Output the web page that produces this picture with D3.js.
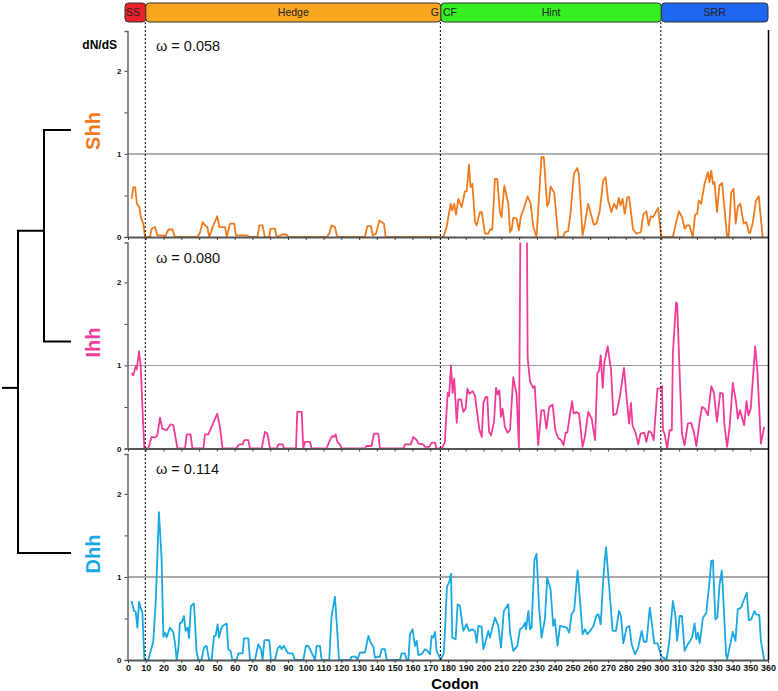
<!DOCTYPE html>
<html lang="en">
<head>
    <meta charset="UTF-8" />
    <title>dN/dS along hedgehog codons</title>
    <script src="https://d3js.org/d3.v7.min.js"></script>
    <style>
        body { margin: 0; background: #fff; }
        text { font-family: "Liberation Sans", Arial, sans-serif; }
    </style>
</head>
<body>
    <script>
        var w = 778;
        var h = 691;

        // data: [codon, dN/dS]
        var genes = ["Shh", "Ihh", "Dhh"];
        var omegas = ["0.058", "0.080", "0.114"];
        var geneColors = ["#f07a1e", "#f03c98", "#1aa8e2"];

        var shh = [[2,0.46],[3,0.6],[4,0.6],[5,0.4],[6.4,0.36],[7.3,0.23],[8.6,0.16],[9.6,0],[12.4,0],[13.3,0.1],[15.2,0.12],[16.5,0.02],[19.9,0.02],[20.8,0],[22.7,0.09],[25.1,0.09],[26.4,0],[39,0],[40.5,0.05],[42,0.18],[43.3,0.14],[44.6,0.12],[45.7,0],[48,0.14],[50.2,0.25],[51.4,0.12],[54.6,0.12],[55.5,0],[57.4,0.16],[59.8,0.16],[60.7,0.02],[66.7,0.02],[68.6,0],[72.8,0],[73.9,0.14],[75.7,0.14],[77,0],[79.5,0],[80.2,0.1],[82.7,0.1],[83.6,0],[86.8,0.03],[89.2,0.03],[90.2,0],[111.7,0],[113.2,0.04],[114.5,0.14],[116.4,0.12],[117.7,0],[133.3,0],[134.6,0.13],[136.7,0.13],[137.6,0.02],[139.5,0.04],[141.4,0.2],[144,0.16],[144.9,0],[177.4,0],[179.2,0.12],[181.5,0.4],[182.4,0.32],[183.5,0.4],[184.5,0.27],[185.8,0.46],[187.7,0.36],[189.5,0.55],[190.5,0.55],[191.8,0.87],[192.7,0.6],[193.7,0.64],[195.2,0.18],[196.1,0.14],[198,0.3],[199,0.3],[200.8,0.04],[202.7,0.04],[203.6,0.09],[204.9,0.09],[206.4,0.7],[207.7,0.7],[209.2,0.3],[210.1,0.24],[211.7,0.62],[213.9,0.4],[214.9,0.06],[215.8,0.09],[216.7,0.23],[218.6,0.22],[219.9,0.08],[220.9,0.24],[222.9,0.36],[224.8,0.49],[226.5,0.4],[228,0.12],[229.8,0],[232.6,0.96],[233.9,0.96],[235.8,0.37],[236.8,0.42],[237.7,0.61],[239.8,0.53],[242,0],[244.8,0],[245.8,0.06],[247.6,0.07],[248.9,0.28],[250.8,0.76],[252.7,0.83],[253.6,0.76],[255.7,0.02],[257,0.16],[258.8,0.4],[262,0.15],[263.5,0.16],[265.4,0.32],[267.3,0.68],[268.6,0.72],[270.1,0.44],[271.9,0.3],[273.4,0.4],[274.8,0.34],[276.1,0.47],[277,0.38],[278.2,0.46],[279.4,0.28],[280.9,0.48],[281.9,0.48],[284.1,0.09],[286,0.04],[288.5,0.06],[289.8,0.27],[291.6,0.31],[292.9,0.14],[294.1,0.25],[295.4,0.24],[296.9,0.3],[298.2,0.35],[300,0],[306.5,0],[307.9,0.14],[309.9,0.31],[311.6,0.24],[313.1,0.1],[314.4,0.14],[315.8,0.14],[317.7,0],[319,0.27],[320.2,0.28],[321.1,0.44],[322.4,0.4],[324.3,0.64],[326.2,0.78],[327.1,0.66],[328.1,0.8],[329,0.64],[329.9,0.66],[331.3,0.3],[332.7,0.62],[334.2,0.65],[337,0],[337.8,0],[339.3,0.54],[340.6,0.58],[341.8,0.16],[343.1,0.37],[344.4,0.4],[346.3,0.16],[347.8,0.18],[349.3,0.05],[350,0.05],[351.4,0.17],[353.3,0.44],[354.8,0.49],[357,0]];

        var ihh = [[2,0.91],[3,0.88],[4.3,0.99],[4.9,0.95],[6.2,1.17],[7.1,1.01],[8.6,0.26],[9.2,0],[11.4,0],[13.3,0.14],[15.2,0.13],[16.5,0.16],[18,0.37],[19.3,0.24],[21.7,0.22],[24,0.29],[25.5,0.28],[27,0.1],[27.8,0],[32.1,0],[33,0.17],[35.2,0.17],[36.2,0],[42.4,0],[43.3,0.17],[45.2,0.17],[47,0.26],[50.2,0.42],[51.7,0.26],[53.2,0],[61.1,0],[62.4,0.05],[64.5,0.05],[65.4,0.1],[67.7,0.1],[68.6,0],[75.2,0],[77,0.2],[78.4,0.18],[79.9,0],[83.6,0],[84.6,0.05],[87,0.05],[87.9,0],[94.5,0],[95.2,0.44],[97.7,0.44],[98.6,0],[99.6,0.08],[102.4,0.08],[103.3,0],[111.7,0],[113.6,0.1],[114.9,0.15],[116,0.14],[116.8,0.17],[117.7,0.08],[119.2,0.05],[120.2,0],[133.3,0],[134.2,0.03],[137,0.03],[138.4,0.18],[140.8,0.18],[141.7,0],[154.9,0],[155.8,0.05],[159,0.05],[160.5,0.14],[162.4,0.1],[163.3,0.06],[166.1,0.05],[167,0.02],[169.5,0.02],[170.8,0.07],[172.7,0.07],[173.6,0],[176.4,0],[178.2,0.07],[179.8,0.67],[180.6,0.63],[181.7,1.0],[182.6,0.67],[183.5,0.84],[184.9,0.31],[185.8,0.59],[187.3,0.59],[188.6,0.44],[189.9,0.48],[190.9,0.72],[192,0.66],[193.9,0.69],[195.2,0.63],[197.6,0.23],[199,0.14],[199.9,0.55],[201.2,0.62],[202.1,0.62],[203.1,0.2],[204.2,0.16],[205.9,0.32],[207,0.73],[208,0.65],[208.9,0.7],[209.8,0.38],[210.7,0.48],[212,0.26],[213.5,0.19],[214.9,0.22],[216.7,0.86],[218.6,0.65],[219.9,0],[221.3,4.5],[223.9,4.5],[224.8,1.09],[226.1,0.81],[227.9,0.73],[228.8,0.75],[230.7,0.04],[232.5,0.46],[234,0.46],[235.4,0.24],[236.9,0.5],[238.8,0.53],[240.4,0.22],[241.9,0.13],[243.7,0.1],[245,0.04],[246.2,0.19],[247.1,0.19],[248.4,0.38],[249.8,0.57],[250.7,0.42],[252.2,0.44],[253.7,0.42],[255.7,0.02],[257,0.14],[258.9,0.44],[260.8,0.36],[262.7,0.1],[264,0.91],[264.9,0.93],[265.9,1.12],[267,0.73],[267.9,1.03],[269.8,1.23],[271.7,0.95],[273,0.4],[274.8,0.42],[276.7,0.63],[279,0.97],[280.4,0.63],[281.9,0.3],[282.9,0.55],[283.8,0.28],[285.6,0.18],[287,0.05],[288.3,0.18],[290.4,0.19],[291.6,0.08],[292.9,0.21],[294.4,0.19],[295.7,0.1],[297.8,0.72],[299.1,0.72],[300.4,0.75],[300.9,0.22],[301.8,0.18],[303.3,0],[304.6,0.22],[305.9,0.22],[306.5,1.15],[308.3,1.76],[308.9,1.74],[310.5,0.79],[311.6,0.18],[313.1,0.04],[314.9,0.3],[316.7,0.31],[318.3,0.2],[319.7,0.03],[321.6,0.34],[322.9,0.5],[324.4,0.48],[326.2,0.4],[328.1,0.75],[329.6,0.67],[331.3,0.32],[333.1,0.67],[334.6,0.66],[335.5,0.28],[337,0.02],[338.4,0.26],[340.2,0.79],[342.1,0.55],[343,0.36],[344.3,0.46],[345.8,0.34],[346.6,0.28],[347.9,0.57],[349,0.4],[350.3,0.48],[352.8,1.23],[354.1,0.91],[356,0.06],[357.9,0.26]];

        var dhh = [[2,0.71],[3.4,0.59],[4.3,0.58],[5.3,0.39],[6.2,0.7],[7.1,0.63],[8.1,0.57],[9.2,0],[11.4,0],[14.2,0.22],[15.6,0.7],[17.4,1.78],[18.9,1.22],[19.9,0.28],[20.8,0.33],[21.7,0.27],[23.6,0.39],[25.5,0.33],[26.4,0.21],[27.4,0],[28.3,0.13],[29.2,0.45],[30.2,0.45],[31.5,0.53],[32.4,0.35],[33.6,0.39],[34.3,0.26],[35.4,0.65],[37.1,0.68],[38.6,0.09],[39.6,0],[41.4,0],[42.7,0.15],[44.2,0.17],[45.6,0],[47,0],[48.4,0.29],[49.3,0.29],[50.4,0.43],[51.2,0.27],[52.3,0.37],[53.2,0.41],[55.5,0.44],[56.4,0.13],[57.7,0.11],[58.7,0],[61.1,0],[62,0.08],[64.5,0.08],[65.2,0.26],[67.7,0.26],[68.6,0],[71.4,0],[73.3,0.19],[74.8,0.13],[75.7,0],[76.7,0.24],[79.5,0.24],[80.4,0],[82.7,0],[84.2,0.14],[85.5,0.17],[86.4,0.13],[87.7,0.17],[89.2,0.11],[90.2,0.08],[92.6,0.08],[93.9,0],[98.6,0],[100.1,0.17],[101.4,0.17],[103.3,0.09],[105.2,0],[106.1,0.17],[108,0.17],[108.9,0],[113.2,0],[114.5,0.53],[116.4,0.76],[117.4,0.45],[118.7,0],[124.9,0],[125.8,0.04],[128.1,0.04],[129,0],[130.5,0.09],[133.3,0.09],[135.2,0.29],[136.5,0.21],[138,0.16],[138.9,0.03],[141.7,0.04],[142.7,0.13],[144.5,0.13],[145.5,0],[153,0],[153.9,0.08],[155.8,0.08],[156.7,0],[157.7,0],[158.6,0.31],[160.1,0.37],[161.4,0.17],[162.4,0.23],[163.3,0.06],[165.2,0.07],[167,0.13],[168.4,0.11],[169.9,0.07],[170.8,0.29],[171.7,0.27],[172.7,0.34],[173.6,0.11],[174.5,0.07],[175.9,0],[177.7,0.09],[179.4,0.88],[180.7,0.94],[181.7,1.04],[182.4,0.27],[184.3,0.25],[185.4,0.67],[186.7,0.65],[188.6,0.35],[190.5,0.43],[191.8,0.35],[193.7,0.37],[195.2,0.35],[196.1,0.21],[197.1,0.41],[198.9,0.4],[199.9,0.13],[201.2,0.23],[202.7,0.35],[203.6,0.27],[206.4,0.51],[208.3,0.41],[209.8,0.15],[211.4,0.59],[213.9,0.67],[214.9,0.33],[216.7,0.11],[219,0.17],[220.5,0.37],[222,0.39],[223.3,0.45],[223.9,0.37],[225.2,0.59],[226.1,0.37],[227,0.39],[228.6,1.2],[229.8,1.28],[231.2,0.65],[232.6,0.27],[234.5,0.49],[235.8,0.99],[237.7,0.85],[239.2,0.41],[240.1,0.49],[241.6,0.17],[243,0.41],[246.8,0.39],[248.2,0.33],[249.5,0.55],[251,0.6],[252.9,1.08],[254.2,0.73],[255.7,0.31],[257,0.37],[258.4,0.31],[259.9,0.35],[261.8,0.41],[263.6,0.54],[264.6,0.55],[265.9,0.43],[267.4,1.0],[268.9,1.36],[270.6,0.9],[272.6,0.35],[274.5,0.35],[276.2,0.59],[277.3,0.53],[278.6,0.2],[280.5,0.39],[282,0.41],[283.3,0.19],[285.2,0.07],[287,0.15],[288.9,0.35],[290.2,0.22],[291.7,0.22],[293.5,0.63],[295.1,0.37],[296,0.2],[297.9,0.2],[300.1,0.04],[301.9,0.02],[302.9,0],[304.4,0.21],[306.5,0.71],[307.9,0.53],[308.9,0.23],[310.3,0.53],[311.6,0.53],[313.1,0.11],[314.9,0.19],[316.2,0.23],[317.3,0.27],[318.7,0.44],[319.7,0.25],[320.6,0.33],[321.6,0.2],[323.4,0.51],[325.3,0.57],[326.8,0.88],[328.1,1.19],[329,1.2],[330.4,0.49],[331.5,0.51],[332.7,0.9],[334,1.08],[334.9,0.73],[336.4,0.07],[337,0.01],[338.4,0.15],[340.2,0.34],[341.7,0.23],[343,0.61],[344.9,0.63],[346.2,0.71],[348.1,0.81],[349.2,0.48],[350.5,0.49],[352.4,0.59],[353.3,0.55],[355.1,0.54],[356,0.23],[357.9,0]];

        var series = [shh, ihh, dhh];

        // protein domains (codon ranges)
        var domainNames = ["SS", "Hedge", "Hint", "SRR"];
        var domainStart = [-1.7, 10, 176, 300];
        var domainEnd = [10, 176, 300, 360];
        var domainColors = ["#e8212a", "#f9a51e", "#34ef22", "#1f66ee"];
        var boundaries = [10, 176, 300];

        var xTicks = d3.range(0, 361, 10);
        var yTicks = [0, 0.5, 1, 1.5, 2];

        var svg = d3.select("body")
            .append("svg")
            .attr("width", w)
            .attr("height", h);

        var left = 128, right = 768;
        var panelTop = [31, 242.5, 454];
        var panelH = 206;

        var xScale = d3.scaleLinear()
            .domain([0, 360])
            .range([left, right]);

        // domain bar
        var bar = svg.append("g");
        bar.selectAll("rect")
            .data(domainNames)
            .enter()
            .append("rect")
            .attr("x", function(d, i) { return xScale(domainStart[i]); })
            .attr("y", 3)
            .attr("width", function(d, i) { return xScale(domainEnd[i]) - xScale(domainStart[i]); })
            .attr("height", 19)
            .attr("rx", 3.5)
            .attr("fill", function(d, i) { return domainColors[i]; })
            .attr("stroke", "#333")
            .attr("stroke-width", 1);

        bar.selectAll("text")
            .data(domainNames)
            .enter()
            .append("text")
            .text(function(d) { return d; })
            .attr("x", function(d, i) {
                if (d == "SS") return xScale(domainStart[i]) + 1;
                return (xScale(domainStart[i]) + xScale(domainEnd[i])) / 2;
            })
            .attr("y", 16)
            .attr("text-anchor", function(d) { return d == "SS" ? "start" : "middle"; })
            .attr("font-size", "10.5px")
            .attr("fill", "#222");

        bar.append("text").text("G")
            .attr("x", xScale(176) - 2).attr("y", 16)
            .attr("text-anchor", "end").attr("font-size", "10.5px").attr("fill", "#222");
        bar.append("text").text("CF")
            .attr("x", xScale(176) + 2).attr("y", 16)
            .attr("font-size", "10.5px").attr("fill", "#222");

        // panels
        series.forEach(function(data, k) {
            var top = panelTop[k];
            var yScale = d3.scaleLinear()
                .domain([0, 2.48])
                .range([top + panelH, top]);

            var g = svg.append("g");

            g.append("clipPath")
                .attr("id", "clip" + k)
                .append("rect")
                .attr("x", left)
                .attr("y", top)
                .attr("width", right - left)
                .attr("height", panelH);

            // reference line at dN/dS = 1
            g.append("line")
                .attr("x1", left).attr("x2", right)
                .attr("y1", yScale(1)).attr("y2", yScale(1))
                .attr("stroke", k == 2 ? "#555" : "#999")
                .attr("stroke-width", k == 0 ? 1.5 : 1.1);

            var line = d3.line()
                .x(function(d) { return xScale(d[0]); })
                .y(function(d) { return yScale(d[1]); });

            g.append("path")
                .datum(data)
                .attr("clip-path", "url(#clip" + k + ")")
                .attr("d", line)
                .attr("fill", "none")
                .attr("stroke", geneColors[k])
                .attr("stroke-width", 1.8)
                .attr("stroke-linejoin", "round");

            // y axis
            var yAxis = d3.axisLeft(yScale)
                .tickValues(yTicks)
                .tickSize(3)
                .tickPadding(3)
                .tickFormat(function(d) { return d % 1 == 0 ? d : ""; });
            var ya = g.append("g")
                .attr("transform", "translate(" + (left - 0.5) + ",0)")
                .call(yAxis);
            ya.select(".domain").attr("stroke", "#666").attr("stroke-width", 1.5);
            ya.selectAll(".tick line").attr("stroke", "#444");
            ya.selectAll("text")
                .attr("font-size", "8px")
                .attr("font-weight", "bold")
                .attr("font-family", "Liberation Sans, Arial, sans-serif")
                .attr("fill", "#111");

            // x axis
            var xAxis = d3.axisBottom(xScale)
                .tickValues(xTicks)
                .tickSize(3)
                .tickSizeOuter(0)
                .tickPadding(2)
                .tickFormat(k == 2 ? d3.format("d") : "");
            var xa = g.append("g")
                .attr("transform", "translate(0," + (top + panelH) + ")")
                .call(xAxis);
            xa.select(".domain").attr("stroke", "#555").attr("stroke-width", 2);
            xa.selectAll(".tick line").attr("stroke", "#444");
            xa.selectAll("text")
                .attr("font-size", "9px")
                .attr("font-weight", "bold")
                .attr("font-family", "Liberation Sans, Arial, sans-serif")
                .attr("fill", "#111");

            // omega label
            g.append("text")
                .text("\u03c9 = " + omegas[k])
                .attr("x", 156)
                .attr("y", top + 20)
                .attr("font-size", "14.5px")
                .attr("fill", "#111");

            // gene name
            var cy = top + panelH / 2 - 3;
            g.append("text")
                .text(genes[k])
                .attr("transform", "translate(100," + cy + ") rotate(-90)")
                .attr("text-anchor", "middle")
                .attr("font-size", "20px")
                .attr("font-weight", "bold")
                .attr("fill", geneColors[k]);
        });

        // right border
        svg.append("line")
            .attr("x1", right + 0.5).attr("x2", right + 0.5)
            .attr("y1", 30).attr("y2", panelTop[2] + panelH)
            .attr("stroke", "#000").attr("stroke-width", 1.5);

        // domain boundaries
        svg.selectAll(".bound")
            .data(boundaries)
            .enter()
            .append("line")
            .attr("class", "bound")
            .attr("x1", function(d) { return xScale(d) - 0.5; })
            .attr("x2", function(d) { return xScale(d) - 0.5; })
            .attr("y1", 22)
            .attr("y2", panelTop[2] + panelH)
            .attr("stroke", "#000")
            .attr("stroke-width", 1)
            .attr("stroke-dasharray", "2,2");

        svg.append("text")
            .text("dN/dS")
            .attr("x", 117)
            .attr("y", 49)
            .attr("text-anchor", "end")
            .attr("font-size", "12px")
            .attr("font-weight", "bold");

        svg.append("text")
            .text("Codon")
            .attr("x", 455)
            .attr("y", 689)
            .attr("text-anchor", "middle")
            .attr("font-size", "15px")
            .attr("font-weight", "bold");

        // tree
        var leafY = panelTop.map(function(t) { return t + panelH / 2 - 4; });
        var nodeY = leafY[0] + (leafY[1] - leafY[0]) / 2 - 5;
        var rootY = nodeY + (leafY[2] - nodeY) / 2 - 4;
        var tree = svg.append("g")
            .attr("fill", "none")
            .attr("stroke", "#000")
            .attr("stroke-width", 2);
        tree.append("path").attr("d",
            "M71," + leafY[0] + "H44V" + leafY[1] + "H71");
        tree.append("path").attr("d",
            "M44," + nodeY + "H18V" + leafY[2] + "H71");
        tree.append("path").attr("d",
            "M2," + rootY + "H18");
    </script>
</body>
</html>
